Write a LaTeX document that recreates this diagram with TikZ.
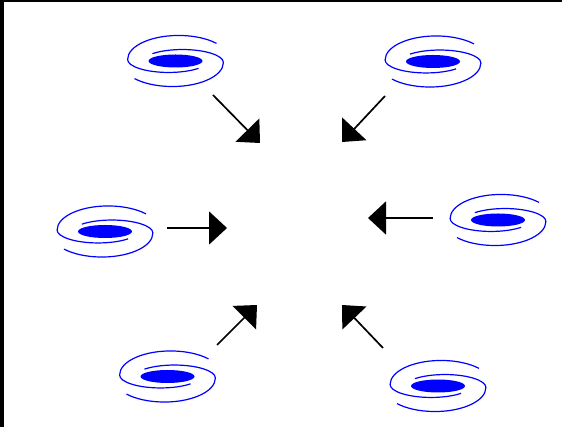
\documentclass[tikz,border=0pt]{standalone}
\usetikzlibrary{arrows.meta}

\tikzset{
  arm/.style={blue, line width=1.2pt},
  flow/.style={-{Triangle[length=18pt, width=33pt]}, line width=1.7pt},
  pics/galaxy/.style={code={
    \fill[blue] (0,0) ellipse[x radius=27, y radius=6.5];
    \foreach \r in {0,180}
      \draw[arm, rotate=\r] (-41,-17.6) arc[start angle=222, end angle=360, x radius=51, y radius=24]
        arc[start angle=0, end angle=137, x radius=41, y radius=13];
  }}
}

\begin{document}
\begin{tikzpicture}[x=1pt, y=1pt]
  \useasboundingbox (0,0) rectangle (562,427);
  % frame
  \fill (0,0) rectangle (4,427);
  \fill (0,424.5) rectangle (562,427);

  % galaxies
  \coordinate (g1) at (175.5,366);
  \coordinate (g2) at (433,365.5);
  \coordinate (g3) at (105,195.5);
  \coordinate (g4) at (498,207);
  \coordinate (g5) at (167.5,50.5);
  \coordinate (g6) at (438,41);
  \foreach \i in {1,...,6} \pic at (g\i) {galaxy};

  % arrows towards the middle
  \coordinate (s1) at (213,332); \coordinate (e1) at (260,284);
  \coordinate (s2) at (385,331); \coordinate (e2) at (342,285);
  \coordinate (s3) at (167,199); \coordinate (e3) at (227,199);
  \coordinate (s4) at (433,209); \coordinate (e4) at (368,209);
  \coordinate (s5) at (217,82);  \coordinate (e5) at (257,122);
  \coordinate (s6) at (383,79);  \coordinate (e6) at (342,122);
  \foreach \i in {1,...,6} \draw[flow] (s\i) -- (e\i);
\end{tikzpicture}
\end{document}
